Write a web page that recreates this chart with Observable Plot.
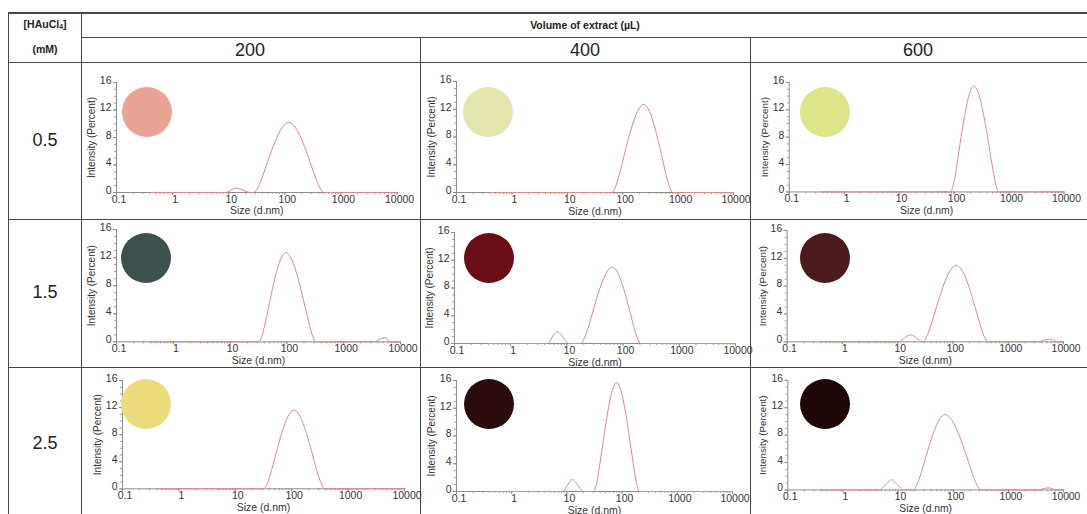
<!DOCTYPE html>
<html><head><meta charset="utf-8">
<script src="https://cdn.jsdelivr.net/npm/d3@7"></script>
<script src="https://cdn.jsdelivr.net/npm/@observablehq/plot@0.6"></script>
<style>
html,body{margin:0;padding:0;background:#fff;}
#fig{position:relative;width:1087px;height:514px;overflow:hidden;font-family:"Liberation Sans",Arial,sans-serif;color:#222;background:#fff;}
.ln{position:absolute;background:#474747;}
.lbl{position:absolute;transform:translate(-50%,-50%);white-space:nowrap;line-height:1;}
.panel{position:absolute;}
.panel svg{overflow:visible;}
.sw{position:absolute;border-radius:50%;width:50px;height:50px;}
sub{font-size:65%;vertical-align:-0.25em;}
</style></head><body><div id="fig"></div>
<script>
// ---------- data ----------
const concentrations = ["0.5", "1.5", "2.5"];          // [HAuCl4] (mM), rows
const volumes = ["200", "400", "600"];                  // volume of extract (µL), columns
const xTickValues = [0.1, 1, 10, 100, 1000, 10000];
const xTickLabels = ["0.1", "1", "10", "100", "1000", "10000"];
const yTickValues = [0, 4, 8, 12, 16];
const swatchColors = [
  "#e9a493", "#e5e5b0", "#dfe58b",
  "#3c504e", "#6a0d14", "#4a1b1d",
  "#ecdc7b", "#2c0b0c", "#1f0708"
];

// size (d.nm) and intensity (%) per panel
const size_05_200 = [0.4, 8.9, 10.2, 12, 13.8, 16, 19.5, 24.5, 28.2, 32.5, 37.5, 49.9, 66.4, 88.3, 117.5, 156, 208, 277, 368, 425, 490, 10000];
const int_05_200  = [0, 0, 0.2, 0.52, 0.64, 0.52, 0.2, 0, 0, 0.61, 1.73, 4.59, 7.34, 9.38, 10.2, 9.38, 7.34, 4.59, 1.73, 0.61, 0, 0];
const size_05_400 = [0.4, 64.6, 73.6, 83.9, 109, 142, 185, 240, 305, 387, 492, 625, 705, 794, 10000];
const int_05_400  = [0, 0, 0.76, 2.16, 5.72, 9.14, 11.68, 12.7, 11.68, 9.14, 5.72, 2.16, 0.76, 0, 0];
const size_05_600 = [0.4, 87.1, 95.9, 106, 128, 156, 189, 229, 282, 347, 427, 525, 582, 646, 10000];
const int_05_600  = [0, 0, 0.93, 2.64, 6.98, 11.16, 14.26, 15.5, 14.26, 11.16, 6.98, 2.64, 0.93, 0, 0];
const size_15_200 = [0.4, 32.4, 36.1, 40.2, 49.9, 61.9, 76.9, 95.5, 122, 156, 199, 254, 286, 324, 3467, 4365, 5129, 5754, 6310, 10000];
const int_15_200  = [0, 0, 0.76, 2.16, 5.72, 9.14, 11.68, 12.7, 11.68, 9.14, 5.72, 2.16, 0.76, 0, 0, 0.4, 0.6, 0.45, 0, 0];
const size_15_400 = [0.4, 4.5, 5.0, 5.8, 6.8, 7.9, 9.5, 11, 17.8, 20.2, 23.0, 29.8, 38.5, 49.9, 64.6, 81.3, 102, 129, 162, 182, 204, 10000];
const int_15_400  = [0, 0, 0.35, 1.25, 1.67, 1.25, 0.4, 0, 0, 0.66, 1.87, 4.95, 7.92, 10.12, 11.0, 10.12, 7.92, 4.95, 1.87, 0.66, 0, 0];
const size_15_600 = [0.4, 10.5, 12, 14.5, 17, 20, 24, 27.5, 28.8, 33.1, 38.0, 50.1, 66.1, 87.1, 115, 149, 194, 252, 328, 374, 427, 3548, 4786, 5754, 6761, 7586, 10000];
const int_15_600  = [0, 0, 0.3, 0.8, 1.0, 0.8, 0.3, 0, 0, 0.66, 1.87, 4.95, 7.92, 10.12, 11.0, 10.12, 7.92, 4.95, 1.87, 0.66, 0, 0, 0.3, 0.4, 0.2, 0, 0];
const size_25_200 = [0.4, 32.4, 36.6, 41.3, 52.7, 67.3, 85.9, 110, 141, 180, 231, 296, 336, 380, 10000];
const int_25_200  = [0, 0, 0.7, 1.97, 5.22, 8.35, 10.67, 11.6, 10.67, 8.35, 5.22, 1.97, 0.7, 0, 0];
const size_25_400 = [0.4, 8.3, 9.3, 11, 12.6, 14.4, 17.5, 20, 30.9, 34.0, 37.3, 45.1, 54.5, 65.8, 79.4, 95.9, 116, 140, 169, 186, 204, 10000];
const int_25_400  = [0, 0, 0.4, 1.3, 1.73, 1.3, 0.4, 0, 0, 0.94, 2.67, 7.07, 11.3, 14.44, 15.7, 14.44, 11.3, 7.07, 2.67, 0.94, 0, 0];
const size_25_600 = [0.4, 4.6, 5.2, 6.5, 7.6, 8.8, 11, 12.6, 19.1, 21.7, 24.8, 32.2, 41.9, 54.5, 70.8, 95.5, 129, 174, 234, 272, 316, 3467, 4365, 5248, 6166, 7079, 10000];
const int_25_600  = [0, 0, 0.3, 1.1, 1.5, 1.1, 0.3, 0, 0, 0.66, 1.87, 4.95, 7.92, 10.12, 11.0, 10.12, 7.92, 4.95, 1.87, 0.66, 0, 0, 0.2, 0.3, 0.2, 0, 0];

const panelSeries = [
  [size_05_200, int_05_200], [size_05_400, int_05_400], [size_05_600, int_05_600],
  [size_15_200, int_15_200], [size_15_400, int_15_400], [size_15_600, int_15_600],
  [size_25_200, int_25_200], [size_25_400, int_25_400], [size_25_600, int_25_600]
];

// ---------- layout ----------
const fig = document.getElementById("fig");
function line(l, t, w, h) {
  const d = document.createElement("div");
  d.className = "ln";
  Object.assign(d.style, {left: l + "px", top: t + "px", width: w + "px", height: h + "px"});
  fig.appendChild(d);
}
function label(html, x, y, css) {
  const d = document.createElement("div");
  d.className = "lbl";
  d.innerHTML = html;
  Object.assign(d.style, {left: x + "px", top: y + "px"}, css || {});
  fig.appendChild(d);
}

// table grid
line(8, 12, 1079, 2);
line(81, 37, 1006, 1);
line(8, 62, 1079, 1);
line(8, 219, 1079, 1);
line(8, 367, 1079, 1);
line(8, 12, 1, 502);
line(81, 12, 1, 502);
line(420, 37, 1, 477);
line(750, 37, 1, 477);

// header texts
const boldSmall = {fontWeight: "bold", fontSize: "10.5px"};
label("[HAuCl<sub>4</sub>]", 45, 25, boldSmall);
label("(mM)", 45, 49, boldSmall);
label("Volume of extract (µL)", 585, 25, boldSmall);
const colCenters = [250, 585, 918];
volumes.forEach((v, i) => label(v, colCenters[i], 50, {fontSize: "18px"}));
const rowCenters = [140, 292, 443];
concentrations.forEach((c, i) => label(c, 45, rowCenters[i], {fontSize: "18px"}));

// panel frames: [x of 0.1, x of 10000, y of 16, y of 0]
const frames = [
  [115.7, 396.3, 81.7, 191.7], [455.8, 732.8, 80.7, 191.7], [788.7, 1065.7, 82.3, 192.7],
  [115.5, 399.5, 229.3, 341.7], [453.7, 734.7, 232.3, 343.3], [787.2, 1066.7, 230, 342.7],
  [121.5, 403.5, 380, 488.3], [455.7, 731.7, 380, 491], [788.4, 1069.4, 380, 491.7]
];
const swatchCenters = [
  [147, 112], [488, 112], [825, 112],
  [146, 258], [489, 258], [825, 258],
  [146, 404], [489, 404], [825, 404]
];

const ML = 36, MR = 24, MT = 8, MB = 26;
const font = '"Liberation Sans", Arial, sans-serif';
const blank = () => "";

panelSeries.forEach(([sizes, ints], k) => {
  const [x0, x1, y16, y0] = frames[k];
  const data = sizes.map((s, i) => ({size: s, intensity: ints[i]}));
  const svg = Plot.plot({
    width: x1 - x0 + ML + MR,
    height: y0 - y16 + MT + MB,
    marginLeft: ML, marginRight: MR, marginTop: MT, marginBottom: MB,
    style: {fontFamily: font, fontSize: "10.5px", color: "#333", background: "transparent", overflow: "visible"},
    x: {type: "log", domain: [0.1, 10000]},
    y: {domain: [0, 16]},
    marks: [
      // minor and major tick marks
      Plot.axisX({ticks: 40, tickSize: 2, tickFormat: blank, stroke: "#a0a0a0", label: null}),
      Plot.axisX({ticks: xTickValues, tickSize: 3, tickFormat: blank, stroke: "#8a8a8a", label: null}),
      Plot.axisY({ticks: 16, tickSize: 2, tickFormat: blank, stroke: "#a0a0a0", label: null}),
      Plot.axisY({ticks: yTickValues, tickSize: 3, tickFormat: blank, stroke: "#8a8a8a", label: null}),
      // tick labels
      Plot.axisX({ticks: xTickValues, tickSize: 0, tickPadding: 3, dx: 2.5, tickFormat: d => xTickLabels[xTickValues.indexOf(d)], fill: "#333", fontSize: 10.5, label: null}),
      Plot.axisY({ticks: yTickValues, tickSize: 0, tickPadding: 5, dy: -2, fill: "#333", fontSize: 10.5, label: null}),
      // axis lines
      Plot.ruleY([0], {stroke: "#8c8c8c"}),
      Plot.ruleX([0.1], {stroke: "#8c8c8c"}),
      Plot.line(data, {x: "size", y: "intensity", curve: "monotone-x", stroke: "#e0878a", strokeWidth: 1}),
      Plot.text(["Size (d.nm)"], {frameAnchor: "bottom", dy: 22, fontSize: 10.5, fill: "#333"}),
      Plot.text(["Intensity (Percent)"], {frameAnchor: "left", textAnchor: "middle", rotate: -90, dx: -25, fontSize: 10, fill: "#333"})
    ]
  });
  const wrap = document.createElement("div");
  wrap.className = "panel";
  wrap.style.left = (x0 - ML) + "px";
  wrap.style.top = (y16 - MT) + "px";
  wrap.appendChild(svg);
  fig.appendChild(wrap);

  const sw = document.createElement("div");
  sw.className = "sw";
  const c = swatchColors[k];
  sw.style.left = (swatchCenters[k][0] - 25) + "px";
  sw.style.top = (swatchCenters[k][1] - 25) + "px";
  sw.style.background = `radial-gradient(circle at 50% 50%, ${c} 0%, ${c} 85%, ${d3.color(c).darker(0.15)} 100%)`;
  fig.appendChild(sw);
});
</script></body></html>
